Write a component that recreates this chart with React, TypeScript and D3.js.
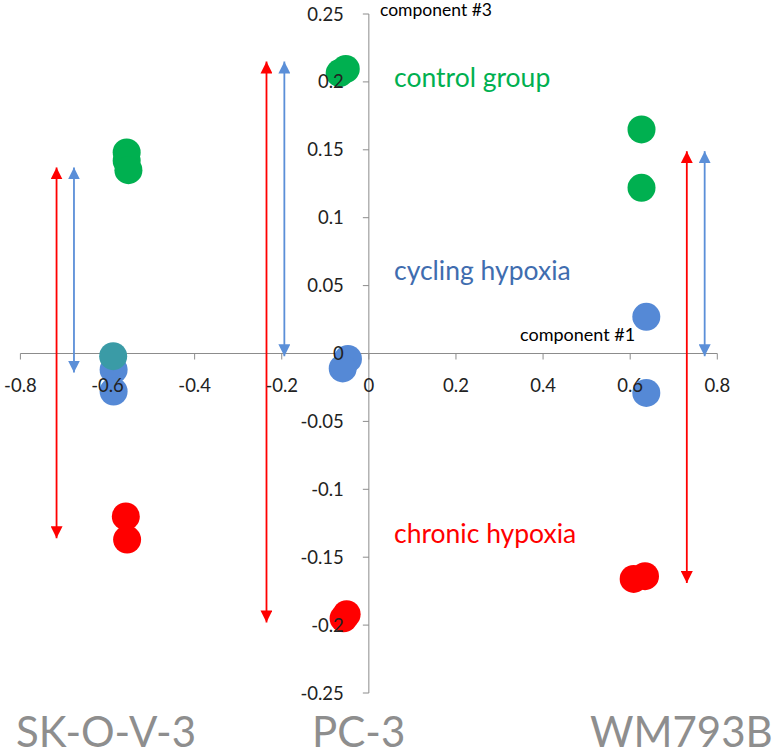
import React from "react";
import * as d3 from "d3";

const xTicks = [-0.8, -0.6, -0.4, -0.2, 0, 0.2, 0.4, 0.6, 0.8];
const yTicks = [0.25, 0.2, 0.15, 0.1, 0.05, 0, -0.05, -0.1, -0.15, -0.2, -0.25];

const controlX = [-0.556, -0.556, -0.552, -0.067, -0.053, 0.626, 0.626];
const controlY = [0.148, 0.142, 0.135, 0.2065, 0.2095, 0.165, 0.122];

const cyclingX = [-0.586, -0.586, -0.048, -0.060, 0.637, 0.637];
const cyclingY = [-0.012, -0.028, -0.004, -0.011, 0.027, -0.029];

const cyclingAltX = [-0.587];
const cyclingAltY = [-0.002];

const chronicX = [-0.558, -0.555, -0.058, -0.051, 0.608, 0.634];
const chronicY = [-0.120, -0.137, -0.195, -0.192, -0.166, -0.164];

// annotation arrows (data coordinates)
const arrowX = [-0.717, -0.677, -0.235, -0.194, 0.730, 0.771];
const arrowTop = [0.137, 0.137, 0.215, 0.215, 0.149, 0.149];
const arrowBottom = [-0.136, -0.014, -0.198, -0.002, -0.169, -0.002];
const arrowColor = ["red", "blue", "red", "blue", "red", "blue"];

const groupLabels = ["SK-O-V-3", "PC-3", "WM793B"];
const groupLabelX = [16, 312, 590];

const W = 779;
const H = 752;
const FONT = "Lato, 'Open Sans', sans-serif";

const x = d3.scaleLinear().domain([-0.8, 0.8]).range([20.4, 717.3]);
const y = d3.scaleLinear().domain([-0.25, 0.25]).range([693, 14]);

const GREEN = "#00B050";
const BLUE = "#5589D6";
const TEAL = "#3A9BA6";
const RED = "#FF0000";
const ARROW_BLUE = "#5B8FD8";
const AXIS = "#8C8C8C";
const R = 14;

function Dots({ xs, ys, color }: { xs: number[]; ys: number[]; color: string }) {
  return (
    <g>
      {xs.map((v, i) => (
        <circle key={i} cx={x(v)} cy={y(ys[i])} r={R} fill={color} />
      ))}
    </g>
  );
}

export default function App() {
  const x0 = x(0);
  const y0 = y(0);
  return (
    <svg
      width={W}
      height={H}
      style={{ position: "fixed", left: 0, top: 0, background: "#fff" }}
      fontFamily={FONT}
    >
      <defs>
        {["red", "blue"].map((c) => (
          <marker
            key={c}
            id={`head-${c}`}
            viewBox="0 0 12 12"
            refX={12}
            refY={6}
            markerWidth={12}
            markerHeight={12}
            markerUnits="userSpaceOnUse"
            orient="auto-start-reverse"
          >
            <path d="M0,0 L12,6 L0,12 Z" fill={c === "red" ? RED : ARROW_BLUE} />
          </marker>
        ))}
      </defs>
      <rect width={W} height={H} fill="#fff" />

      {/* axes */}
      <line x1={x(-0.8)} x2={x(0.8)} y1={y0} y2={y0} stroke={AXIS} strokeWidth={1} />
      <line x1={x0} x2={x0} y1={y(0.25)} y2={y(-0.25)} stroke={AXIS} strokeWidth={1} />
      {xTicks.map((t) => (
        <line key={t} x1={x(t)} x2={x(t)} y1={y0} y2={y0 + 6} stroke={AXIS} />
      ))}
      {yTicks.map((t) => (
        <line key={t} x1={x0 - 6} x2={x0} y1={y(t)} y2={y(t)} stroke={AXIS} />
      ))}

      {/* arrows */}
      {arrowX.map((v, i) => (
        <line
          key={i}
          x1={x(v)}
          x2={x(v)}
          y1={y(arrowBottom[i])}
          y2={y(arrowTop[i])}
          stroke={arrowColor[i] === "red" ? RED : ARROW_BLUE}
          strokeWidth={1.8}
          markerStart={`url(#head-${arrowColor[i]})`}
          markerEnd={`url(#head-${arrowColor[i]})`}
        />
      ))}

      {/* points */}
      <Dots xs={controlX} ys={controlY} color={GREEN} />
      <Dots xs={cyclingX} ys={cyclingY} color={BLUE} />
      <Dots xs={cyclingAltX} ys={cyclingAltY} color={TEAL} />
      <Dots xs={chronicX} ys={chronicY} color={RED} />

      {/* tick labels */}
      {xTicks.map((t) => (
        <text key={t} x={x(t)} y={y0 + 38} textAnchor="middle" fontSize={18.5} fill="#222">
          {d3.format("")(t).replace("−", "-")}
        </text>
      ))}
      {yTicks.map((t) => (
        <text key={t} x={x0 - 25} y={y(t) + 6.5} textAnchor="end" fontSize={18.5} fill="#222">
          {d3.format("")(t).replace("−", "-")}
        </text>
      ))}

      {/* axis titles */}
      <text x={380} y={16} fontSize={17.5} fill="#000">component #3</text>
      <text x={520} y={341} fontSize={18} fill="#000">component #1</text>

      {/* group labels */}
      <text x={394} y={87} fontSize={26.5} fill={GREEN}>control group</text>
      <text x={394} y={280} fontSize={26.5} fill="#3F6DAF">cycling hypoxia</text>
      <text x={394} y={543} fontSize={26.5} fill={RED}>chronic hypoxia</text>

      {groupLabels.map((g, i) => (
        <text key={g} x={groupLabelX[i]} y={747} fontSize={42} fill="#8E8E8E">
          {g}
        </text>
      ))}
    </svg>
  );
}
